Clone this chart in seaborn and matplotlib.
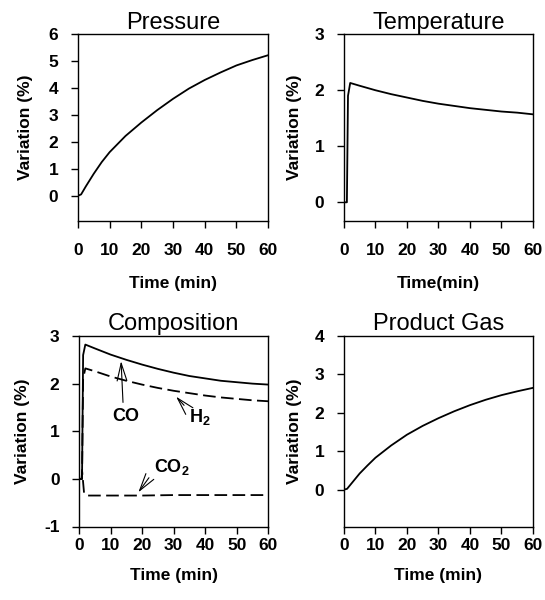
import numpy as np
import pandas as pd
import seaborn as sns
import matplotlib
matplotlib.use("Agg")
import matplotlib.pyplot as plt

# Pressure
p_time = [0, 1, 2.5, 5, 7.5, 10, 15, 20, 25, 30, 35, 40, 45, 50, 55, 60]
p_var = [0, 0.05, 0.35, 0.82, 1.25, 1.62, 2.22, 2.72, 3.18, 3.6, 3.98, 4.3, 4.58, 4.84, 5.04, 5.22]

# Temperature
t_time = [0, 0.95, 1.3, 2, 5, 10, 15, 20, 25, 30, 35, 40, 45, 50, 55, 60]
t_var = [0, 0, 1.9, 2.13, 2.08, 2.0, 1.93, 1.87, 1.81, 1.76, 1.72, 1.68, 1.65, 1.62, 1.6, 1.57]

# Composition
c_time = [0, 0.95, 1.3, 2, 5, 10, 15, 20, 25, 30, 35, 40, 45, 50, 55, 60]
co_var = [0, 0, 2.6, 2.82, 2.74, 2.61, 2.5, 2.4, 2.31, 2.23, 2.16, 2.11, 2.06, 2.03, 2.0, 1.98]
h2_var = [0, 0, 2.1, 2.32, 2.26, 2.15, 2.06, 1.98, 1.91, 1.85, 1.8, 1.75, 1.71, 1.68, 1.65, 1.63]
co2_time = [0, 0.8, 1.0, 1.2, 1.6, 2.5, 10, 20, 30, 40, 50, 60]
co2_var = [0, 0, 0.15, 0, -0.3, -0.35, -0.35, -0.35, -0.34, -0.34, -0.34, -0.34]

# Product gas
g_time = [0, 1, 2.5, 5, 7.5, 10, 15, 20, 25, 30, 35, 40, 45, 50, 55, 60]
g_var = [0, 0.02, 0.17, 0.42, 0.63, 0.83, 1.15, 1.43, 1.66, 1.86, 2.04, 2.2, 2.34, 2.46, 2.56, 2.65]

sns.set_style("ticks")
plt.rcParams['font.family'] = ['Liberation Sans', 'DejaVu Sans']
plt.rcParams['mathtext.fontset'] = 'custom'
plt.rcParams['mathtext.rm'] = 'Liberation Sans:bold'
plt.rcParams['mathtext.default'] = 'rm'
plt.rcParams['axes.unicode_minus'] = False
for key in ['text.color', 'axes.labelcolor', 'xtick.color', 'ytick.color', 'axes.edgecolor']:
    plt.rcParams[key] = 'black'

fig = plt.figure(figsize=(5.45, 6), dpi=100)
ax_p = fig.add_axes([0.143, 0.632, 0.349, 0.311])
ax_t = fig.add_axes([0.631, 0.632, 0.347, 0.311])
ax_c = fig.add_axes([0.145, 0.1225, 0.347, 0.3175])
ax_g = fig.add_axes([0.631, 0.1225, 0.347, 0.3175])

line_kw = dict(color="black", linewidth=1.3, estimator=None)
dash = (7, 3)

sns.lineplot(x=p_time, y=p_var, ax=ax_p, **line_kw)
sns.lineplot(x=t_time, y=t_var, ax=ax_t, **line_kw)
sns.lineplot(x=c_time, y=co_var, ax=ax_c, **line_kw)
sns.lineplot(x=c_time, y=h2_var, ax=ax_c, **line_kw).lines[-1].set_dashes(dash)
sns.lineplot(x=co2_time, y=co2_var, ax=ax_c, **line_kw).lines[-1].set_dashes(dash)
sns.lineplot(x=g_time, y=g_var, ax=ax_g, **line_kw)

# ax, title, xlabel, ylim, yticks, x tick pad, xlabel y, ylabel x
panels = [
    (ax_p, "Pressure", "Time (min)", (-0.93, 6), range(0, 7), 11, -0.295, -0.237),
    (ax_t, "Temperature", "Time(min)", (-0.33, 3), range(0, 4), 11, -0.295, -0.222),
    (ax_c, "Composition", "Time (min)", (-1, 3), range(-1, 4), 3, -0.218, -0.26),
    (ax_g, "Product Gas", "Time (min)", (-0.96, 4), range(0, 5), 3, -0.218, -0.222),
]
for ax, title, xlabel, ylim, yticks, xpad, xl_y, yl_x in panels:
    ax.set_xlim(0, 60)
    ax.set_ylim(*ylim)
    ax.set_xticks(range(0, 61, 10))
    ax.set_yticks(list(yticks))
    ax.set_title(title, fontsize=17, pad=4)
    ax.set_xlabel(xlabel, fontsize=12.5, fontweight="bold")
    ax.set_ylabel("Variation (%)", fontsize=12.5, fontweight="bold")
    ax.xaxis.set_label_coords(0.5, xl_y)
    ax.yaxis.set_label_coords(yl_x, 0.5)
    ax.tick_params(direction="out", length=5, width=1, labelsize=12.5, colors="black")
    ax.tick_params(axis="x", pad=xpad)
    ax.tick_params(axis="y", pad=9)
    for lab in ax.get_xticklabels() + ax.get_yticklabels():
        lab.set_fontweight("bold")
    for sp in ax.spines.values():
        sp.set_visible(True)
        sp.set_linewidth(1.0)
        sp.set_color("black")

arrow = dict(arrowstyle="->,head_length=0.9,head_width=0.25", color="black",
             lw=0.8, mutation_scale=14)
ax_c.annotate("CO", xy=(13.3, 2.53), xytext=(14.9, 1.3), ha="center", va="center",
              fontsize=13, fontweight="bold",
              arrowprops=dict(arrow, relpos=(0.4, 1.0)))
ax_c.annotate("H$_2$", xy=(30.2, 1.77), xytext=(38.4, 1.3), ha="center", va="center",
              fontsize=13, fontweight="bold",
              arrowprops=dict(arrow, relpos=(0.0, 0.8)))
ax_c.annotate("CO$_2$", xy=(18.3, -0.33), xytext=(29.4, 0.25), ha="center", va="center",
              fontsize=13, fontweight="bold",
              arrowprops=dict(arrow, relpos=(0.0, 0.3)))

fig.savefig("out.png", dpi=100)
